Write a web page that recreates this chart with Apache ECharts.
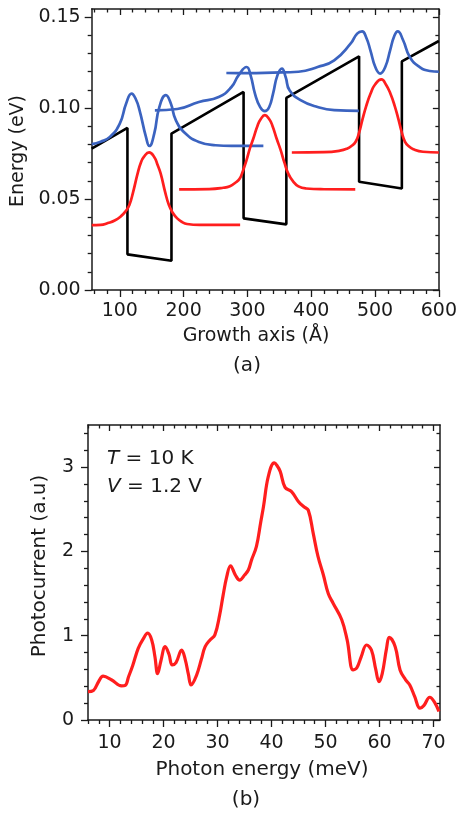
<!DOCTYPE html>
<html>
<head>
<meta charset="utf-8">
<script src="https://cdn.jsdelivr.net/npm/echarts@6/dist/echarts.min.js"></script>
<style>
  html, body { margin: 0; padding: 0; background: #fff; }
  #chart { width: 460px; height: 815px; }
</style>
</head>
<body>
<div id="chart"></div>
<script>
  // ---- (a) band profile: growth axis (Å) vs energy (eV)
  var potential = [[56,0.0777],[112,0.0891],[112,0.0196],[181,0.0161],[181,0.0860],[294,0.1089],[294,0.0394],
    [361,0.0361],[361,0.1056],[475,0.1285],[475,0.0595],[542,0.0558],[542,0.1257],[600,0.1369]];

  var blue1 = [[56,0.0802],[70,0.0815],[84.5,0.0842],[100,0.0915],[110,0.1025],[118.5,0.1080],[125,0.1050],
    [131,0.0988],[141,0.0842],[146.4,0.0792],[154,0.0860],[162,0.1006],[172.3,0.1071],[180,0.1025],
    [187.8,0.0934],[203,0.0860],[224,0.0814],[250,0.0796],[275,0.0792],[325,0.0792]];
  var blue2 = [[155,0.0988],[190,0.0995],[224,0.1034],[255,0.1061],[275,0.1116],[286,0.1180],[298.8,0.1226],
    [305,0.1180],[311.8,0.1080],[320,0.1005],[327.3,0.0983],[334,0.1005],[340.2,0.1080],[347,0.1180],
    [354,0.1217],[360,0.1170],[366,0.1098],[384,0.1043],[410,0.1006],[436,0.0989],[474.6,0.0985]];
  var blue3 = [[267,0.1193],[300,0.1192],[340,0.1195],[380,0.1200],[410,0.1226],[436,0.1263],[461.6,0.1354],
    [472,0.1410],[479.7,0.1422],[486,0.1390],[492.7,0.1318],[500.4,0.1226],[508,0.1190],[516,0.1226],
    [523.6,0.1318],[530,0.1395],[535.5,0.1422],[544,0.1373],[554.6,0.1280],[570,0.1226],[585.6,0.1204],[600,0.1200]];

  var red1 = [[56,0.0357],[70,0.0358],[81.3,0.0368],[92,0.0382],[102,0.0406],[109,0.0432],[115,0.0467],
    [121,0.0540],[128,0.0641],[133,0.0700],[138,0.0733],[146,0.0757],[153.7,0.0733],[159,0.0690],
    [164,0.0641],[171,0.0540],[177,0.0467],[183,0.0425],[190,0.0394],[198,0.0373],[205.4,0.0363],
    [225,0.0358],[288.6,0.0358]];
  var red2 = [[193,0.0553],[240,0.0555],[262,0.0562],[272.6,0.0571],[281,0.0590],[288,0.0613],[293,0.0655],
    [298.5,0.0713],[304,0.0780],[309,0.0830],[316,0.0905],[321,0.0940],[327.3,0.0961],[334,0.0940],
    [339,0.0905],[346,0.0830],[352,0.0770],[358,0.0700],[364,0.0640],[371,0.0600],[380,0.0570],
    [392,0.0558],[420,0.0554],[469,0.0553]];
  var red3 = [[369.6,0.0756],[420,0.0758],[445,0.0766],[456.7,0.0778],[463,0.0792],[469.6,0.0815],[475,0.0865],
    [480,0.0934],[486,0.1010],[493,0.1080],[500,0.1130],[510,0.1158],[517,0.1130],[524,0.1080],
    [531,0.1010],[537,0.0934],[542,0.0865],[547,0.0815],[553,0.0790],[560,0.0774],[575,0.0760],[600,0.0756]];

  var growthTicks = [100, 200, 300, 400, 500, 600];
  var energyTicks = [0, 0.05, 0.10, 0.15];

  // ---- (b) photocurrent spectrum: photon energy (meV) vs photocurrent (a.u)
  var photocurrent = [[6.0,0.336],[7.0,0.35],[8.0,0.46],[8.8,0.52],[10.4,0.475],[12.2,0.404],[12.9,0.41],
    [13.5,0.51],[14.3,0.65],[15.3,0.85],[16.2,0.96],[17.05,1.03],[17.8,0.95],[18.4,0.75],[18.9,0.55],
    [19.5,0.70],[20.3,0.87],[21.0,0.78],[21.6,0.653],[22.3,0.68],[23.35,0.83],[24.0,0.72],[24.6,0.54],
    [25.1,0.416],[26.1,0.53],[27.0,0.72],[27.7,0.87],[28.6,0.95],[29.5,1.01],[30.4,1.25],[31.0,1.47],
    [31.7,1.70],[32.4,1.83],[33.3,1.72],[34.1,1.66],[35.0,1.72],[35.7,1.78],[36.3,1.90],[37.2,2.06],
    [38.0,2.35],[38.5,2.53],[39.4,2.89],[40.5,3.05],[41.0,3.02],[41.6,2.95],[42.5,2.76],[43.7,2.71],
    [45.0,2.59],[46.0,2.53],[46.8,2.49],[47.7,2.22],[48.6,1.94],[49.6,1.72],[50.5,1.50],[51.4,1.386],
    [53.0,1.19],[54.0,0.95],[55.1,0.594],[55.8,0.62],[56.6,0.75],[57.6,0.89],[58.5,0.83],[59.3,0.60],
    [59.9,0.455],[60.5,0.55],[61.3,0.85],[61.8,0.98],[62.9,0.87],[63.8,0.594],[64.8,0.48],[65.6,0.416],
    [66.5,0.28],[67.5,0.14],[68.2,0.17],[69.3,0.27],[70.2,0.21],[71.0,0.10]];

  var photonTicks = [10, 20, 30, 40, 50, 60, 70];
  var currentTicks = [0, 1, 2, 3];

  // minor tick positions between the labelled ones
  function minor(from, to, step, major) {
    var out = [];
    for (var v = from; v <= to + step / 2; v += step) {
      var r = Math.round(v * 1000) / 1000;
      if (major.indexOf(r) < 0) out.push(r);
    }
    return out;
  }

  var ink = '#1a1a1a';
  var font = 'DejaVu Sans';

  // four axes per side: main major, main minor, mirror major, mirror minor
  function axisGroup(grid, lo, hi, pos, mirror, major, minorVals, labelFmt, margin) {
    function ax(p, ticks, len, inside, showLine, showLabel) {
      return {
        type: 'value', gridIndex: grid, min: lo, max: hi, position: p,
        splitLine: { show: false },
        axisLine: { show: showLine, onZero: false, lineStyle: { color: ink, width: 1.5 } },
        axisTick: { show: true, inside: inside, length: len, customValues: ticks,
          lineStyle: { color: ink, width: 1.3 } },
        axisLabel: showLabel ? { show: true, customValues: major, formatter: labelFmt, margin: margin,
          fontFamily: font, fontSize: 19, color: ink } : { show: false }
      };
    }
    return [
      ax(pos, major, 7, false, true, true),
      ax(pos, minorVals, 4, false, false, false),
      ax(mirror, major, 6, true, true, false),
      ax(mirror, minorVals, 3.5, true, false, false)
    ];
  }

  var xAxes = [].concat(
    axisGroup(0, 56, 600, 'bottom', 'top', growthTicks, minor(60, 600, 20, growthTicks), null, 12),
    axisGroup(1, 6, 71.2, 'bottom', 'top', photonTicks, minor(6, 70, 2, photonTicks), null, 14)
  );
  var yAxes = [].concat(
    axisGroup(0, 0, 0.1545, 'left', 'right', energyTicks, minor(0, 0.15, 0.01, energyTicks),
      function (v) { return v.toFixed(2); }, 11),
    axisGroup(1, 0, 3.5, 'left', 'right', currentTicks, minor(0, 3.4, 0.2, currentTicks), null, 14)
  );

  function curve(name, data, color, width, smooth, grid) {
    return {
      name: name, type: 'line', data: data,
      xAxisIndex: grid * 4, yAxisIndex: grid * 4,
      showSymbol: false, smooth: smooth,
      lineStyle: { color: color, width: width },
      z: 3
    };
  }

  var blue = '#3b63c0';
  var red = '#ff1e1e';

  function label(text, x, y, size, rot) {
    return {
      type: 'text', x: x, y: y, rotation: rot || 0,
      style: { text: text, fontFamily: font, fontSize: size, fill: ink, align: 'center', verticalAlign: 'middle' }
    };
  }

  var chart = echarts.init(document.getElementById('chart'));
  chart.setOption({
    animation: false,
    backgroundColor: '#ffffff',
    grid: [
      { left: 91.7, right: 17.7, top: 9, height: 281 },
      { left: 88, right: 20, top: 425, height: 295 }
    ],
    xAxis: xAxes,
    yAxis: yAxes,
    series: [
      curve('potential', potential, '#000000', 2.6, false, 0),
      curve('E2 (well 1)', blue1, blue, 2.7, 0.5, 0),
      curve('E2 (well 2)', blue2, blue, 2.7, 0.5, 0),
      curve('E2 (well 3)', blue3, blue, 2.7, 0.5, 0),
      curve('E1 (well 1)', red1, red, 2.7, 0.5, 0),
      curve('E1 (well 2)', red2, red, 2.7, 0.5, 0),
      curve('E1 (well 3)', red3, red, 2.7, 0.5, 0),
      curve('photocurrent', photocurrent, red, 3.2, 0.4, 1)
    ],
    graphic: [
      label('Energy (eV)', 18, 151, 19, Math.PI / 2),
      label('Growth axis (Å)', 256, 336, 19),
      label('(a)', 247, 366, 20),
      label('Photocurrent (a.u)', 40, 566, 20, Math.PI / 2),
      label('Photon energy (meV)', 262, 770, 20),
      label('(b)', 246, 800, 20),
      {
        type: 'text', x: 107, y: 459,
        style: {
          text: '{i|T} = 10 K', fontFamily: font, fontSize: 20, fill: ink, verticalAlign: 'middle',
          rich: { i: { fontStyle: 'italic', fontFamily: font, fontSize: 20, fill: ink } }
        }
      },
      {
        type: 'text', x: 107, y: 487,
        style: {
          text: '{i|V} = 1.2 V', fontFamily: font, fontSize: 20, fill: ink, verticalAlign: 'middle',
          rich: { i: { fontStyle: 'italic', fontFamily: font, fontSize: 20, fill: ink } }
        }
      }
    ]
  });
</script>
</body>
</html>
